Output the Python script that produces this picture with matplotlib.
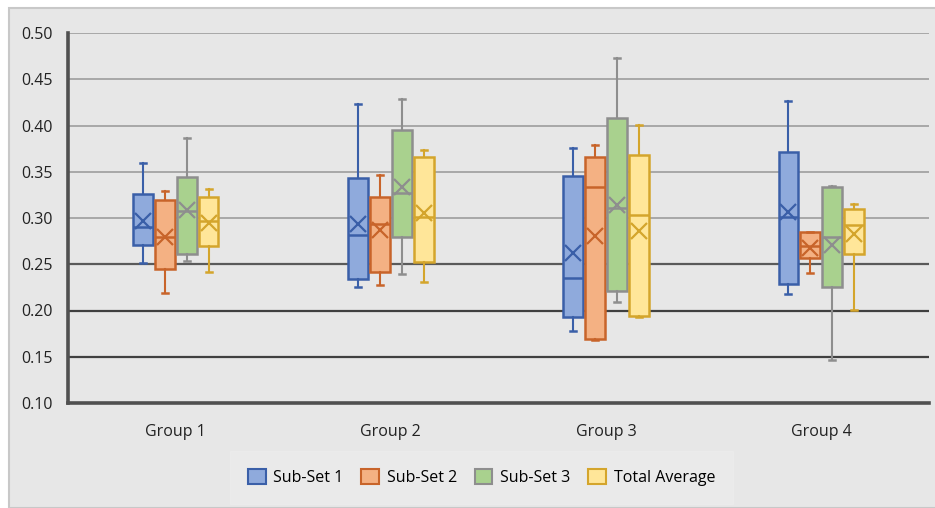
import matplotlib.pyplot as plt
from matplotlib.patches import Patch, Rectangle

plt.rcParams['font.family'] = ['Open Sans', 'DejaVu Sans']

groups = ['Group 1', 'Group 2', 'Group 3', 'Group 4']
series = ['Sub-Set 1', 'Sub-Set 2', 'Sub-Set 3', 'Total Average']

# box statistics, one list per series (Group 1..4)
sub1_lo = [0.251, 0.225, 0.178, 0.218]
sub1_q1 = [0.271, 0.234, 0.193, 0.229]
sub1_med = [0.290, 0.282, 0.235, 0.301]
sub1_q3 = [0.326, 0.343, 0.345, 0.371]
sub1_hi = [0.360, 0.423, 0.376, 0.427]
sub1_mean = [0.297, 0.294, 0.262, 0.306]

sub2_lo = [0.219, 0.228, 0.168, 0.241]
sub2_q1 = [0.245, 0.242, 0.169, 0.257]
sub2_med = [0.279, 0.293, 0.334, 0.270]
sub2_q3 = [0.320, 0.323, 0.366, 0.285]
sub2_hi = [0.329, 0.347, 0.379, 0.285]
sub2_mean = [0.279, 0.287, 0.281, 0.268]

sub3_lo = [0.254, 0.239, 0.209, 0.147]
sub3_q1 = [0.261, 0.280, 0.221, 0.225]
sub3_med = [0.308, 0.327, 0.311, 0.280]
sub3_q3 = [0.344, 0.395, 0.408, 0.333]
sub3_hi = [0.386, 0.429, 0.473, 0.335]
sub3_mean = [0.309, 0.333, 0.314, 0.271]

tot_lo = [0.242, 0.231, 0.193, 0.201]
tot_q1 = [0.270, 0.252, 0.194, 0.261]
tot_med = [0.297, 0.301, 0.303, 0.292]
tot_q3 = [0.323, 0.366, 0.368, 0.310]
tot_hi = [0.331, 0.374, 0.401, 0.315]
tot_mean = [0.295, 0.305, 0.286, 0.283]

data = [
    (sub1_lo, sub1_q1, sub1_med, sub1_q3, sub1_hi, sub1_mean),
    (sub2_lo, sub2_q1, sub2_med, sub2_q3, sub2_hi, sub2_mean),
    (sub3_lo, sub3_q1, sub3_med, sub3_q3, sub3_hi, sub3_mean),
    (tot_lo, tot_q1, tot_med, tot_q3, tot_hi, tot_mean),
]

fills = ['#8FAADC', '#F4B183', '#A9D18E', '#FFE699']
edges = ['#3A5FA8', '#C8642A', '#8E8E8E', '#D4A52C']
offsets = [-0.153, -0.051, 0.051, 0.153]
bg = '#e7e7e7'

fig = plt.figure(figsize=(9.35, 5.08), dpi=100)
fig.patch.set_facecolor('white')
fig.patches.append(Rectangle((9 / 935, 0), 1, 500 / 508, transform=fig.transFigure,
                             facecolor=bg, edgecolor='#c8c8c8', lw=1.5, zorder=-10))
ax = fig.add_axes([68 / 935, 1 - 403 / 508, (929 - 68) / 935, (403 - 33) / 508])
ax.set_facecolor(bg)

# gridlines: lighter above 0.25, darker below
for y in [0.30, 0.35, 0.40, 0.45, 0.50]:
    ax.axhline(y, color='#a8a8a8', lw=1.4, zorder=0)
ax.axhline(0.25, color='#5a5a5a', lw=1.6, zorder=0)
for y in [0.15, 0.20]:
    ax.axhline(y, color='#404040', lw=1.6, zorder=0)

for i, (lo, q1, med, q3, hi, mean) in enumerate(data):
    stats = []
    for g in range(len(groups)):
        stats.append({'whislo': lo[g], 'q1': q1[g], 'med': med[g], 'q3': q3[g],
                      'whishi': hi[g], 'mean': mean[g], 'fliers': []})
    pos = [g + offsets[i] for g in range(len(groups))]
    c = edges[i]
    ax.bxp(stats, positions=pos, widths=0.092, patch_artist=True, showmeans=True,
           boxprops=dict(facecolor=fills[i], edgecolor=c, lw=1.8),
           medianprops=dict(color=c, lw=1.8),
           whiskerprops=dict(color=c, lw=1.5),
           capprops=dict(color=c, lw=1.8),
           capwidths=0.028,
           meanprops=dict(marker='x', markeredgecolor=c, markersize=11, markeredgewidth=1.6),
           manage_ticks=False, zorder=3)

ax.set_xlim(-0.5, 3.5)
ax.set_ylim(0.10, 0.50)
ax.set_yticks([0.10, 0.15, 0.20, 0.25, 0.30, 0.35, 0.40, 0.45, 0.50])
ax.set_yticklabels(['%.2f' % v for v in ax.get_yticks()])
ax.set_xticks(range(len(groups)))
ax.set_xticklabels(groups)
ax.tick_params(axis='y', length=0, pad=11, labelsize=11.5, colors='#222222')
ax.tick_params(axis='x', length=0, pad=15, labelsize=11.5, colors='#222222')

for s in ['top', 'right']:
    ax.spines[s].set_visible(False)
for s in ['left', 'bottom']:
    ax.spines[s].set_color('#505050')
    ax.spines[s].set_linewidth(2.6)

handles = [Patch(facecolor=fills[i], edgecolor=edges[i], lw=1.5) for i in range(4)]
leg = fig.legend(handles, series, loc='lower center', bbox_to_anchor=(0.515, -0.007),
                 ncol=4, frameon=True, fontsize=11.5, handlelength=1.1, handleheight=1.1,
                 handletextpad=0.5, columnspacing=1.1, borderpad=1.1, fancybox=False)
leg.get_frame().set_facecolor('#ececec')
leg.get_frame().set_edgecolor('#ececec')

plt.savefig('out.png', dpi=100, facecolor=fig.get_facecolor())
